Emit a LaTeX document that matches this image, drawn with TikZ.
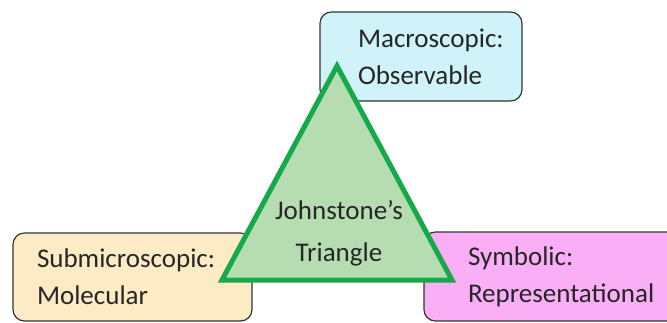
\documentclass[tikz,border=0pt]{standalone}
\usepackage{fontspec}
\setmainfont{Carlito}
\usetikzlibrary{positioning}
\definecolor{macrofill}{HTML}{CFF3F8}
\definecolor{subfill}{HTML}{FDEBC6}
\definecolor{symfill}{HTML}{FAAEF6}
\definecolor{trifill}{HTML}{B5DDB1}
\definecolor{triline}{HTML}{16A94A}
\tikzset{
  box/.style    = { rectangle, align=left, font=\fontsize{27}{37}\selectfont },
  border/.style = { line width=1.2pt, draw=black!80 },
  round/.style  = { rounded corners=4mm },
}
\tikzset{
  level/.style   = { box, border, round, text=black!85 },
  macro/.style   = { level, fill=macrofill, inner xsep=38pt, text width=126pt, minimum height=89pt },
  submicro/.style= { level, fill=subfill,   inner xsep=24pt, text width=191pt, minimum height=88pt },
  symbolic/.style= { level, fill=symfill,   inner xsep=44pt, text width=178pt, minimum height=89pt },
  tri/.style     = { fill=trifill, draw=triline, line width=5pt, line join=miter },
  title/.style   = { box, align=center, font=\fontsize{27}{42}\selectfont, text=black!85 }
}

\begin{document}
\begin{tikzpicture}[x=1pt,y=-1pt]
  \useasboundingbox (0,0) rectangle (667,322);

  \node (macro) [macro]    at (421,56.5)  {Macroscopic:\\Observable};
  \node (sub)   [submicro] at (132.5,277) {Submicroscopic:\\Molecular};
  \node (sym)   [symbolic] at (557,276.5) {Symbolic:\\Representational};

  \draw [tri] (337,66) -- (452,280) -- (222,280) -- cycle;
  \node (jt) [title] at (339,233) {Johnstone’s\\Triangle};

\end{tikzpicture}
\end{document}
